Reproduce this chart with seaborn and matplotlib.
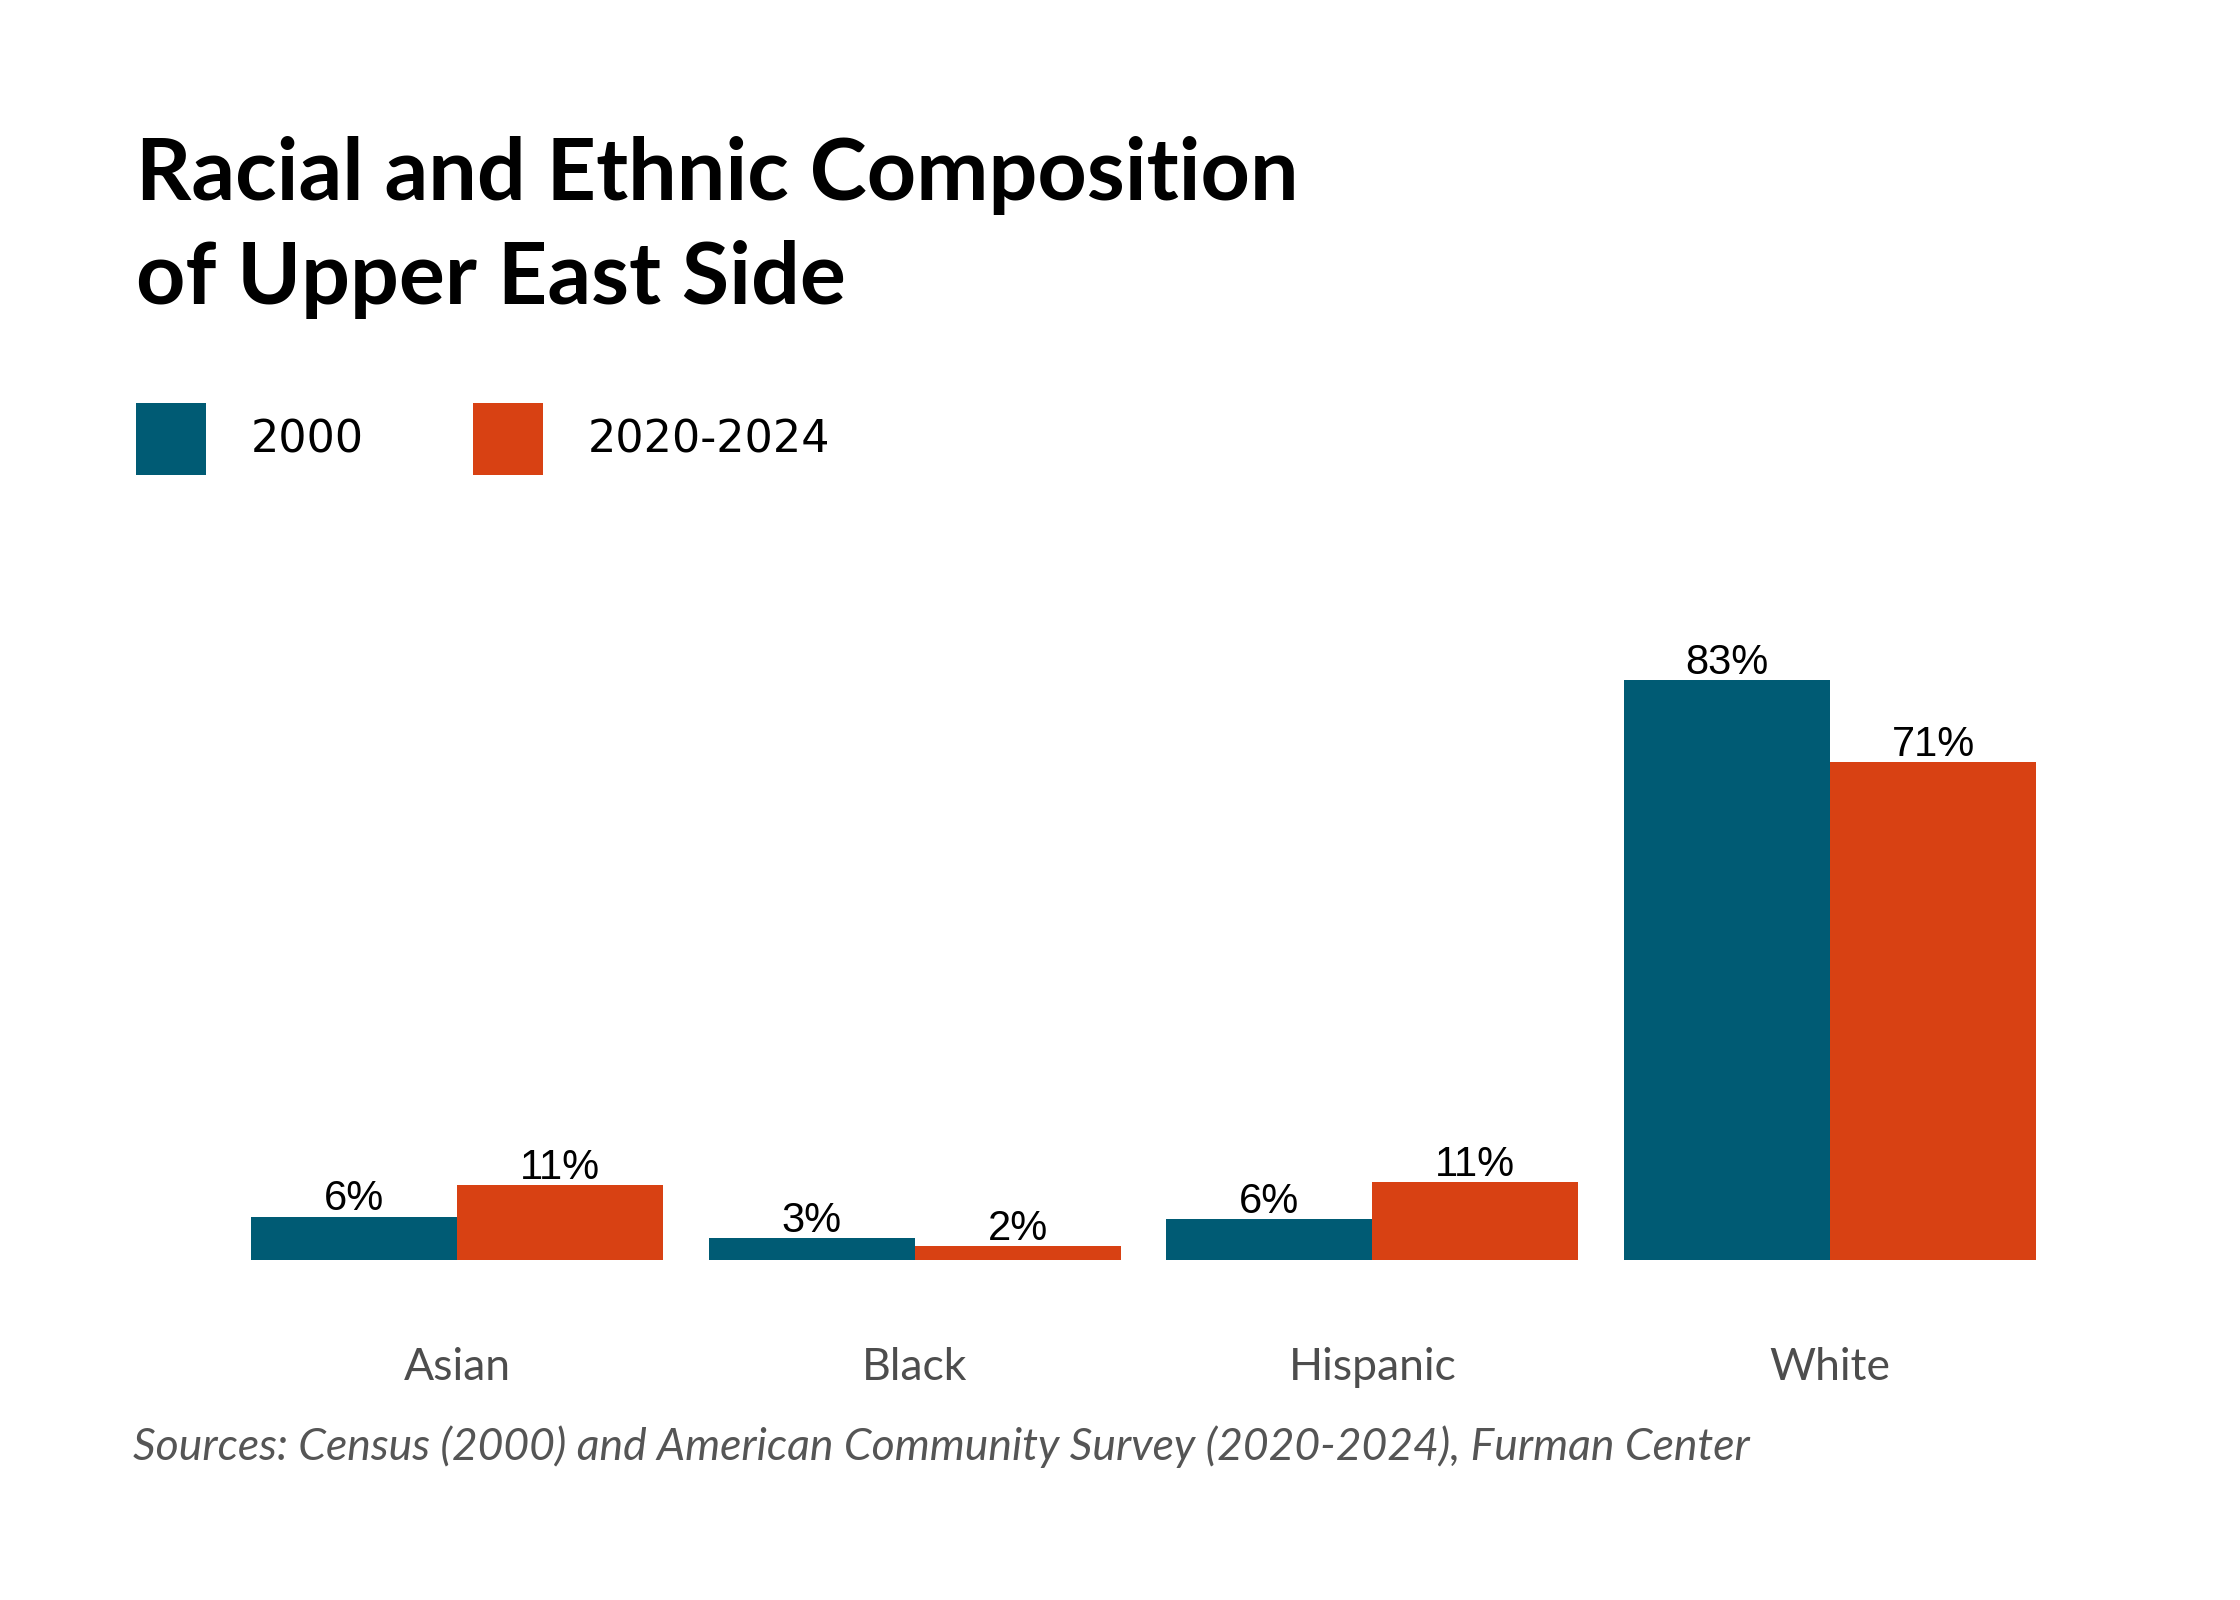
import pandas as pd
import seaborn as sns
import matplotlib.pyplot as plt

# Data
groups = ['Asian', 'Black', 'Hispanic', 'White']
share_2000 = [6.2, 3.1, 5.9, 83.0]
share_2020 = [10.7, 2.0, 11.1, 71.3]
periods = ['2000', '2020-2024']
colors = ['#005B74', '#D84113']

df = pd.DataFrame({
    'group': groups * 2,
    'share': share_2000 + share_2020,
    'period': [periods[0]] * len(groups) + [periods[1]] * len(groups),
})

sns.set_theme(style='white')
plt.rcParams['font.family'] = ['Lato', 'DejaVu Sans']

fig = plt.figure(figsize=(11.2, 8), dpi=200)
ax = fig.add_axes([0.1018, 0.2125, 0.8174, 0.3931])

sns.barplot(data=df, x='group', y='share', hue='period', palette=colors,
            width=0.9, saturation=1, linewidth=0, ax=ax)

# Percentage labels on bars
for cont in ax.containers:
    ax.bar_label(cont, labels=[f'{v:.0f}%' for v in cont.datavalues],
                 padding=-1, fontsize=15, family='Liberation Sans', color='black')

ax.set_ylim(0, 90)
ax.set_xlim(-0.5, 3.5)
ax.set_xlabel('')
ax.set_ylabel('')
ax.set_yticks([])
sns.despine(ax=ax, left=True, bottom=True)
ax.tick_params(axis='x', length=0, pad=31.5, labelsize=16, labelcolor='#4D4D4D')

# Legend on top left
sns.move_legend(ax, loc='upper left', bbox_to_anchor=(0.0607, 0.748),
                bbox_transform=fig.transFigure, ncol=2, frameon=False, title=None,
                prop={'family': 'DejaVu Sans', 'size': 16}, labelcolor='black',
                handlelength=1.58, handleheight=2.1,
                handletextpad=1.0, columnspacing=2.45, borderpad=0, borderaxespad=0)

# Title and source note
fig.text(0.0607, 0.915, 'Racial and Ethnic Composition\nof Upper East Side',
         fontsize=31, fontweight='bold', va='top', ha='left', linespacing=1.39,
         color='black')
fig.text(0.0594, 0.0956, 'Sources: Census (2000) and American Community Survey (2020-2024), Furman Center',
         fontsize=16, style='italic', color='#555555', va='center', ha='left')

fig.savefig('out.png', dpi=200)
